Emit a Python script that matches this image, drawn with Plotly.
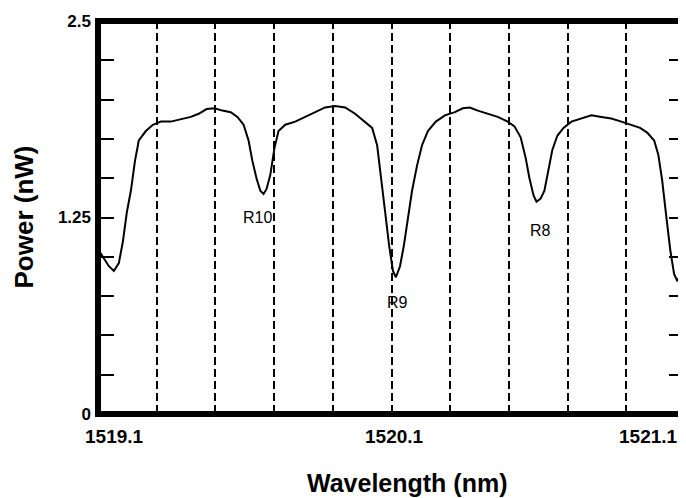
import plotly.graph_objects as go

# Data (wavelength in nm, power in nW)
wavelength = [1519.103, 1519.120, 1519.137, 1519.154, 1519.171, 1519.185, 1519.198, 1519.212,
              1519.226, 1519.239, 1519.263, 1519.287, 1519.314, 1519.348, 1519.382, 1519.416,
              1519.443, 1519.470, 1519.497, 1519.524, 1519.552, 1519.575, 1519.596, 1519.613,
              1519.626, 1519.640, 1519.653, 1519.664, 1519.674, 1519.687, 1519.701, 1519.715,
              1519.738, 1519.772, 1519.806, 1519.840, 1519.874, 1519.908, 1519.942, 1519.976,
              1520.010, 1520.034, 1520.051, 1520.064, 1520.078, 1520.092, 1520.105, 1520.115,
              1520.129, 1520.142, 1520.156, 1520.170, 1520.187, 1520.204, 1520.224, 1520.251,
              1520.282, 1520.316, 1520.343, 1520.367, 1520.394, 1520.428, 1520.462, 1520.496,
              1520.519, 1520.540, 1520.557, 1520.570, 1520.584, 1520.594, 1520.608, 1520.621,
              1520.635, 1520.648, 1520.665, 1520.686, 1520.713, 1520.747, 1520.781, 1520.815,
              1520.849, 1520.883, 1520.917, 1520.947, 1520.971, 1520.995, 1521.009, 1521.022,
              1521.036, 1521.050, 1521.063, 1521.073, 1521.087, 1521.099]
power = [1.04, 0.99, 0.94, 0.91, 0.96, 1.10, 1.28, 1.42,
         1.61, 1.74, 1.80, 1.84, 1.86, 1.86, 1.875, 1.89,
         1.91, 1.94, 1.945, 1.93, 1.92, 1.89, 1.84, 1.74,
         1.61, 1.50, 1.42, 1.40, 1.43, 1.52, 1.69, 1.80,
         1.84, 1.86, 1.89, 1.92, 1.95, 1.96, 1.95, 1.91,
         1.86, 1.82, 1.71, 1.52, 1.29, 1.07, 0.91, 0.87,
         0.94, 1.07, 1.26, 1.42, 1.58, 1.71, 1.80, 1.86,
         1.90, 1.92, 1.945, 1.95, 1.93, 1.91, 1.89, 1.86,
         1.83, 1.76, 1.63, 1.50, 1.39, 1.35, 1.37, 1.42,
         1.55, 1.68, 1.77, 1.82, 1.86, 1.88, 1.90, 1.89,
         1.88, 1.86, 1.84, 1.82, 1.79, 1.74, 1.65, 1.49,
         1.26, 1.04, 0.89, 0.85, 0.88, 0.94]

resonance_labels = ["R10", "R9", "R8"]
resonance_x = [1519.645, 1520.122, 1520.606]
resonance_y = [1.253, 0.712, 1.17]

x_range = [1519.1, 1521.1]
x_grid_step = 0.2
x_tick_values = [1519.1, 1520.1, 1521.1]
x_tick_labels = ["1519.1", "1520.1", "1521.1"]

y_range = [0, 2.5]
y_tick_values = [0, 0.25, 0.5, 0.75, 1.0, 1.25, 1.5, 1.75, 2.0, 2.25, 2.5]
y_tick_labels = ["0", "", "", "", "", "1.25", "", "", "", "", "2.5"]

x_title = "Wavelength (nm)"
y_title = "Power (nW)"

FONT = "Liberation Sans, Arial, Helvetica, sans-serif"

fig = go.Figure()
fig.add_trace(go.Scatter(x=wavelength, y=power, mode="lines",
                         line=dict(color="black", width=2), hoverinfo="skip",
                         showlegend=False))

annotations = []
for lab, lx, ly in zip(resonance_labels, resonance_x, resonance_y):
    annotations.append(dict(x=lx, y=ly, xref="x", yref="y", text=lab, showarrow=False,
                            font=dict(family=FONT, size=16, color="black"),
                            xanchor="center", yanchor="middle"))

anchors = ["left", "center", "right"]
shifts = [-15, 3, -5]
for tv, tl, anc, sh in zip(x_tick_values, x_tick_labels, anchors, shifts):
    annotations.append(dict(x=tv, y=0, xref="x", yref="paper", text="<b>%s</b>" % tl,
                            showarrow=False, xanchor=anc, yanchor="top", xshift=sh, yshift=-10,
                            font=dict(family=FONT, size=19, color="black")))

annotations.append(dict(x=0.526, y=0, xref="paper", yref="paper", text="<b>%s</b>" % x_title,
                        showarrow=False, xanchor="center", yanchor="middle", yshift=-69,
                        font=dict(family=FONT, size=25, color="black")))
annotations.append(dict(x=0, y=0.5, xref="paper", yref="paper", text="<b>%s</b>" % y_title,
                        showarrow=False, xanchor="center", yanchor="middle", textangle=-90,
                        xshift=-75,
                        font=dict(family=FONT, size=26, color="black")))

# page body has an 8px default margin; the layout compensates for it
fig.update_layout(
    width=678, height=490,
    margin=dict(l=90, r=1, t=13, b=84),
    paper_bgcolor="white", plot_bgcolor="white",
    font=dict(family=FONT, color="black"),
    annotations=annotations,
    shapes=[dict(type="rect", xref="paper", yref="paper", x0=0, x1=1, y0=0, y1=1,
                 line=dict(color="black", width=6), layer="above")],
    xaxis=dict(range=x_range, dtick=x_grid_step, tick0=x_range[0], showgrid=True,
               gridcolor="black", gridwidth=1.6, griddash="8px,4px",
               showticklabels=False, ticks="", zeroline=False, showline=False,
               automargin=False),
    yaxis=dict(range=y_range, tickvals=y_tick_values, ticktext=y_tick_labels,
               ticks="inside", ticklen=16, tickwidth=2, tickcolor="black",
               mirror="ticks", showgrid=False, zeroline=False, showline=False,
               tickfont=dict(family=FONT, size=17, color="black", weight="bold"),
               ticklabelstandoff=6, automargin=False),
)

fig.write_html("out.html")
